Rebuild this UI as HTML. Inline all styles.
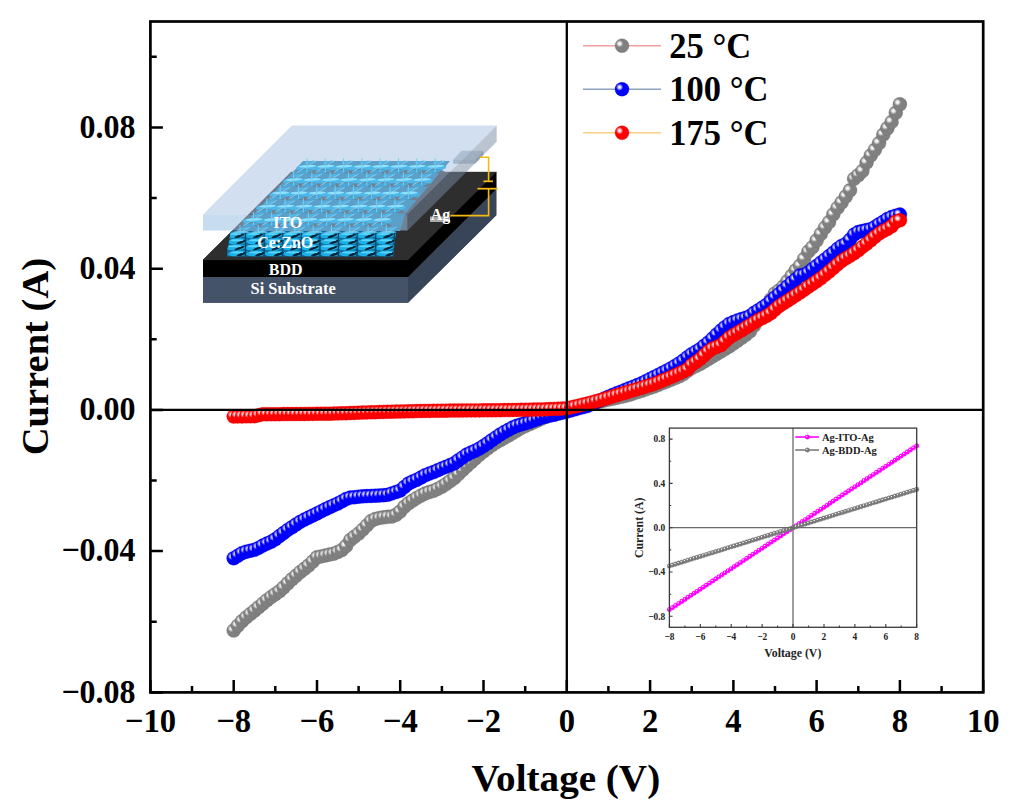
<!DOCTYPE html><html><head><meta charset="utf-8"><style>html,body{margin:0;padding:0;background:#fff;width:1014px;height:811px;overflow:hidden;}svg{display:block;}text{font-family:"Liberation Serif",serif;font-weight:bold;}</style></head><body>
<svg width="1014" height="811" viewBox="0 0 1014 811">
<defs>
<radialGradient id="hl" cx="0.5" cy="0.5" r="0.5"><stop offset="0" stop-color="#fff" stop-opacity="1"/><stop offset="0.35" stop-color="#fff" stop-opacity="0.85"/><stop offset="1" stop-color="#fff" stop-opacity="0"/></radialGradient>
<g id="mG"><circle r="7" fill="#808080"/><circle r="7" fill="none" stroke="#6e6e6e" stroke-width="0.6" stroke-opacity="0.5"/><circle cx="-2.4" cy="-2.0" r="3.6" fill="url(#hl)"/></g>
<g id="mB"><circle r="7" fill="#0000ff"/><circle r="7" fill="none" stroke="#0000c8" stroke-width="0.6" stroke-opacity="0.5"/><circle cx="-2.4" cy="-2.0" r="3.6" fill="url(#hl)"/></g>
<g id="mR"><circle r="7" fill="#ff0000"/><circle r="7" fill="none" stroke="#d00000" stroke-width="0.6" stroke-opacity="0.5"/><circle cx="-2.4" cy="-2.0" r="3.6" fill="url(#hl)"/></g>
<g id="mM"><circle r="2.3" fill="#ff00ff"/><circle r="2.3" fill="none" stroke="#ff00ff" stroke-width="0.6" stroke-opacity="0.5"/><circle cx="-0.6" cy="-0.6" r="1.1" fill="url(#hl)"/></g>
<g id="mK"><circle r="2.3" fill="#7a7a7a"/><circle r="2.3" fill="none" stroke="#7a7a7a" stroke-width="0.6" stroke-opacity="0.5"/><circle cx="-0.6" cy="-0.6" r="1.1" fill="url(#hl)"/></g>
<clipPath id="nclip"><polygon points="285,150 472,150 407.5,214.6 401,232.5 215,232.5"/></clipPath>
<clipPath id="fclip"><polygon points="231,231 396,231 393,256.5 226,256.5"/></clipPath>
<g id="flw"><ellipse cx="-1" cy="-1" rx="10" ry="2.6" transform="rotate(-28)" fill="#7d8c9e"/><ellipse cx="0" cy="1.2" rx="11" ry="3.2" transform="rotate(-3)" fill="#4cb9ea"/><ellipse cx="3" cy="4.2" rx="8" ry="2.0" transform="rotate(10)" fill="#6d8296"/><ellipse cx="-2" cy="4.6" rx="7" ry="1.6" transform="rotate(-8)" fill="#4aa8da"/><ellipse cx="0.5" cy="-0.2" rx="8.5" ry="1.2" transform="rotate(-3)" fill="#92e2ff"/><ellipse cx="4" cy="-3.5" rx="6" ry="1.4" transform="rotate(-10)" fill="#56b4e4"/><line x1="0" y1="-8" x2="0" y2="6" stroke="#6ccff8" stroke-width="1.0"/><line x1="-10" y1="6" x2="10" y2="-6" stroke="#7fd6fa" stroke-width="0.8"/></g>
<g id="fw"><ellipse cx="0" cy="0" rx="10" ry="3.0" transform="rotate(-4)" fill="#1cb0e8"/><ellipse cx="3" cy="2.0" rx="5.5" ry="1.3" transform="rotate(-22)" fill="#04263a"/><ellipse cx="-1" cy="-1.1" rx="6.5" ry="1.0" fill="#5cd6ff"/></g>
</defs>
<g id="device"><polygon points="203,276.9 408,276.9 496.3,189 496.3,215.3 408,302.7 203,302.7" fill="#3c485c"/><polygon points="203,259.9 291.3,172 496.3,172 496.3,189 408,276.9 203,276.9" fill="#000"/><polygon points="203,276.9 408,276.9 408,302.7 203,302.7" fill="#455369"/><polygon points="408,276.9 496.3,189 496.3,215.3 408,302.7" fill="#384457"/><polygon points="203,259.9 408,259.9 408,276.9 203,276.9" fill="#000"/><polygon points="408,259.9 496.3,172 496.3,189 408,276.9" fill="#000"/><polygon points="203,259.9 291.3,172 496.3,172 408,259.9" fill="#2e2e2e" stroke="#2e2e2e" stroke-width="0.4"/><g clip-path="url(#fclip)"><rect x="227" y="231" width="170" height="26" fill="#0f6e9e"/><use href="#fw" x="236.0" y="235.2"/><use href="#fw" x="254.6" y="235.2"/><use href="#fw" x="273.2" y="235.2"/><use href="#fw" x="291.8" y="235.2"/><use href="#fw" x="310.4" y="235.2"/><use href="#fw" x="329.0" y="235.2"/><use href="#fw" x="347.6" y="235.2"/><use href="#fw" x="366.2" y="235.2"/><use href="#fw" x="384.8" y="235.2"/><use href="#fw" x="403.4" y="235.2"/><use href="#fw" x="238.0" y="241.3"/><use href="#fw" x="256.6" y="241.3"/><use href="#fw" x="275.2" y="241.3"/><use href="#fw" x="293.8" y="241.3"/><use href="#fw" x="312.4" y="241.3"/><use href="#fw" x="331.0" y="241.3"/><use href="#fw" x="349.6" y="241.3"/><use href="#fw" x="368.2" y="241.3"/><use href="#fw" x="386.8" y="241.3"/><use href="#fw" x="405.4" y="241.3"/><use href="#fw" x="236.0" y="247.4"/><use href="#fw" x="254.6" y="247.4"/><use href="#fw" x="273.2" y="247.4"/><use href="#fw" x="291.8" y="247.4"/><use href="#fw" x="310.4" y="247.4"/><use href="#fw" x="329.0" y="247.4"/><use href="#fw" x="347.6" y="247.4"/><use href="#fw" x="366.2" y="247.4"/><use href="#fw" x="384.8" y="247.4"/><use href="#fw" x="403.4" y="247.4"/><use href="#fw" x="238.0" y="253.5"/><use href="#fw" x="256.6" y="253.5"/><use href="#fw" x="275.2" y="253.5"/><use href="#fw" x="293.8" y="253.5"/><use href="#fw" x="312.4" y="253.5"/><use href="#fw" x="331.0" y="253.5"/><use href="#fw" x="349.6" y="253.5"/><use href="#fw" x="368.2" y="253.5"/><use href="#fw" x="386.8" y="253.5"/><use href="#fw" x="405.4" y="253.5"/><line x1="245.5" y1="232" x2="245.5" y2="257" stroke="#0a4060" stroke-width="1.2"/><line x1="264.1" y1="232" x2="264.1" y2="257" stroke="#0a4060" stroke-width="1.2"/><line x1="282.7" y1="232" x2="282.7" y2="257" stroke="#0a4060" stroke-width="1.2"/><line x1="301.3" y1="232" x2="301.3" y2="257" stroke="#0a4060" stroke-width="1.2"/><line x1="319.9" y1="232" x2="319.9" y2="257" stroke="#0a4060" stroke-width="1.2"/><line x1="338.5" y1="232" x2="338.5" y2="257" stroke="#0a4060" stroke-width="1.2"/><line x1="357.1" y1="232" x2="357.1" y2="257" stroke="#0a4060" stroke-width="1.2"/><line x1="375.7" y1="232" x2="375.7" y2="257" stroke="#0a4060" stroke-width="1.2"/><line x1="394.3" y1="232" x2="394.3" y2="257" stroke="#0a4060" stroke-width="1.2"/></g><polygon points="203,214.6 292,125.4 496.7,125.4 407.6,214.6" fill="rgb(167,193,227)" fill-opacity="0.52"/><polygon points="203,214.6 407.6,214.6 407.6,230.6 203,230.6" fill="rgb(160,195,230)" fill-opacity="0.58"/><polygon points="407.6,214.6 496.7,125.4 496.7,141.8 407.6,230.6" fill="rgb(120,140,165)" fill-opacity="0.5"/><g clip-path="url(#nclip)"><polygon points="303,161 450,161 405,214 400,231 238,231" fill="#5c9fc8"/><use href="#flw" x="307.0" y="166.5"/><use href="#flw" x="325.3" y="166.5"/><use href="#flw" x="343.6" y="166.5"/><use href="#flw" x="361.9" y="166.5"/><use href="#flw" x="380.2" y="166.5"/><use href="#flw" x="398.5" y="166.5"/><use href="#flw" x="416.8" y="166.5"/><use href="#flw" x="435.1" y="166.5"/><use href="#flw" x="293.6" y="179.8"/><use href="#flw" x="311.9" y="179.8"/><use href="#flw" x="330.2" y="179.8"/><use href="#flw" x="348.5" y="179.8"/><use href="#flw" x="366.8" y="179.8"/><use href="#flw" x="385.1" y="179.8"/><use href="#flw" x="403.4" y="179.8"/><use href="#flw" x="421.7" y="179.8"/><use href="#flw" x="280.2" y="193.1"/><use href="#flw" x="298.5" y="193.1"/><use href="#flw" x="316.8" y="193.1"/><use href="#flw" x="335.1" y="193.1"/><use href="#flw" x="353.4" y="193.1"/><use href="#flw" x="371.7" y="193.1"/><use href="#flw" x="390.0" y="193.1"/><use href="#flw" x="408.3" y="193.1"/><use href="#flw" x="266.8" y="206.4"/><use href="#flw" x="285.1" y="206.4"/><use href="#flw" x="303.4" y="206.4"/><use href="#flw" x="321.7" y="206.4"/><use href="#flw" x="340.0" y="206.4"/><use href="#flw" x="358.3" y="206.4"/><use href="#flw" x="376.6" y="206.4"/><use href="#flw" x="394.9" y="206.4"/><use href="#flw" x="253.4" y="219.7"/><use href="#flw" x="271.7" y="219.7"/><use href="#flw" x="290.0" y="219.7"/><use href="#flw" x="308.3" y="219.7"/><use href="#flw" x="326.6" y="219.7"/><use href="#flw" x="344.9" y="219.7"/><use href="#flw" x="363.2" y="219.7"/><use href="#flw" x="381.5" y="219.7"/><use href="#flw" x="240.0" y="233.0"/><use href="#flw" x="258.3" y="233.0"/><use href="#flw" x="276.6" y="233.0"/><use href="#flw" x="294.9" y="233.0"/><use href="#flw" x="313.2" y="233.0"/><use href="#flw" x="331.5" y="233.0"/><use href="#flw" x="349.8" y="233.0"/><use href="#flw" x="368.1" y="233.0"/><use href="#flw" x="386.4" y="233.0"/></g><polygon points="453.2,159.7 461.7,150.8 483.4,150.8 475.3,159.7" fill="#7f93aa" fill-opacity="0.42"/><polygon points="453.2,159.7 475.3,159.7 475.3,163.7 453.2,163.7" fill="#7a8ea6" fill-opacity="0.5"/><polygon points="475.3,159.7 483.4,150.8 483.4,155 475.3,163.7" fill="#6a7f98" fill-opacity="0.55"/><polyline points="479.5,157.2 488.6,157.2 488.6,181.3" fill="none" stroke="#f5b914" stroke-width="1.6"/><line x1="483.5" y1="181.3" x2="493" y2="181.3" stroke="#f5b914" stroke-width="1.8"/><line x1="477.5" y1="188.7" x2="497.7" y2="188.7" stroke="#f5b914" stroke-width="1.8"/><polyline points="488.6,188.7 488.6,215.6 450.5,215.6" fill="none" stroke="#f5b914" stroke-width="1.6"/><rect x="430" y="216.5" width="20" height="5.5" fill="#a9a9a9"/><text x="440.5" y="219.5" font-size="16" fill="#fff" text-anchor="middle">Ag</text><text x="287.7" y="228.4" font-size="16" fill="#fff" text-anchor="middle">ITO</text><text x="285.3" y="248.4" font-size="16" fill="#fff" text-anchor="middle">Ce:ZnO</text><text x="285.6" y="274.9" font-size="16" fill="#fff" text-anchor="middle">BDD</text><text x="293.1" y="294.2" font-size="16.4" fill="#fff" text-anchor="middle">Si Substrate</text></g>
<g><use href="#mG" x="233.7" y="630.5"/><use href="#mG" x="237.8" y="625.8"/><use href="#mG" x="242.0" y="621.2"/><use href="#mG" x="246.2" y="617.4"/><use href="#mG" x="250.3" y="614.1"/><use href="#mG" x="254.5" y="610.7"/><use href="#mG" x="258.7" y="607.3"/><use href="#mG" x="262.8" y="603.7"/><use href="#mG" x="267.0" y="600.2"/><use href="#mG" x="271.2" y="597.1"/><use href="#mG" x="275.3" y="594.2"/><use href="#mG" x="279.5" y="591.3"/><use href="#mG" x="283.6" y="587.5"/><use href="#mG" x="287.8" y="583.3"/><use href="#mG" x="292.0" y="579.3"/><use href="#mG" x="296.1" y="575.7"/><use href="#mG" x="300.3" y="572.1"/><use href="#mG" x="304.5" y="568.8"/><use href="#mG" x="308.6" y="565.5"/><use href="#mG" x="312.8" y="561.5"/><use href="#mG" x="317.0" y="557.3"/><use href="#mG" x="321.1" y="556.4"/><use href="#mG" x="325.3" y="555.5"/><use href="#mG" x="329.5" y="554.6"/><use href="#mG" x="333.6" y="553.7"/><use href="#mG" x="337.8" y="552.0"/><use href="#mG" x="341.9" y="550.1"/><use href="#mG" x="346.1" y="546.0"/><use href="#mG" x="350.3" y="540.0"/><use href="#mG" x="354.4" y="536.8"/><use href="#mG" x="358.6" y="533.6"/><use href="#mG" x="362.8" y="529.6"/><use href="#mG" x="366.9" y="525.4"/><use href="#mG" x="371.1" y="521.1"/><use href="#mG" x="375.3" y="519.0"/><use href="#mG" x="379.4" y="518.1"/><use href="#mG" x="383.6" y="517.3"/><use href="#mG" x="387.7" y="516.8"/><use href="#mG" x="391.9" y="516.6"/><use href="#mG" x="396.1" y="514.8"/><use href="#mG" x="400.2" y="511.5"/><use href="#mG" x="404.4" y="506.7"/><use href="#mG" x="408.6" y="503.2"/><use href="#mG" x="412.7" y="500.5"/><use href="#mG" x="416.9" y="497.9"/><use href="#mG" x="421.1" y="495.6"/><use href="#mG" x="425.2" y="493.5"/><use href="#mG" x="429.4" y="492.0"/><use href="#mG" x="433.6" y="490.8"/><use href="#mG" x="437.7" y="488.9"/><use href="#mG" x="441.9" y="486.7"/><use href="#mG" x="446.0" y="484.1"/><use href="#mG" x="450.2" y="481.1"/><use href="#mG" x="454.4" y="478.0"/><use href="#mG" x="458.5" y="474.0"/><use href="#mG" x="462.7" y="470.0"/><use href="#mG" x="466.9" y="466.0"/><use href="#mG" x="471.0" y="462.3"/><use href="#mG" x="475.2" y="458.5"/><use href="#mG" x="479.4" y="454.8"/><use href="#mG" x="483.5" y="451.5"/><use href="#mG" x="487.7" y="448.4"/><use href="#mG" x="491.8" y="445.2"/><use href="#mG" x="496.0" y="442.5"/><use href="#mG" x="500.2" y="440.2"/><use href="#mG" x="504.3" y="437.9"/><use href="#mG" x="508.5" y="435.6"/><use href="#mG" x="512.7" y="433.1"/><use href="#mG" x="516.8" y="430.6"/><use href="#mG" x="521.0" y="428.0"/><use href="#mG" x="525.2" y="426.1"/><use href="#mG" x="529.3" y="424.2"/><use href="#mG" x="533.5" y="422.4"/><use href="#mG" x="537.7" y="420.5"/><use href="#mG" x="541.8" y="418.6"/><use href="#mG" x="546.0" y="416.7"/><use href="#mG" x="550.1" y="415.1"/><use href="#mG" x="554.3" y="414.1"/><use href="#mG" x="558.5" y="413.0"/><use href="#mG" x="562.6" y="412.0"/><use href="#mG" x="566.8" y="411.0"/><use href="#mG" x="571.0" y="409.7"/><use href="#mG" x="575.1" y="408.3"/><use href="#mG" x="579.3" y="407.0"/><use href="#mG" x="583.5" y="405.6"/><use href="#mG" x="587.6" y="404.4"/><use href="#mG" x="591.8" y="403.4"/><use href="#mG" x="595.9" y="402.4"/><use href="#mG" x="600.1" y="401.5"/><use href="#mG" x="604.3" y="400.5"/><use href="#mG" x="608.4" y="399.6"/><use href="#mG" x="612.6" y="398.7"/><use href="#mG" x="616.8" y="397.7"/><use href="#mG" x="620.9" y="396.8"/><use href="#mG" x="625.1" y="395.9"/><use href="#mG" x="629.3" y="394.8"/><use href="#mG" x="633.4" y="393.4"/><use href="#mG" x="637.6" y="392.0"/><use href="#mG" x="641.8" y="390.7"/><use href="#mG" x="645.9" y="389.3"/><use href="#mG" x="650.1" y="387.9"/><use href="#mG" x="654.2" y="386.5"/><use href="#mG" x="658.4" y="384.8"/><use href="#mG" x="662.6" y="383.1"/><use href="#mG" x="666.7" y="381.5"/><use href="#mG" x="670.9" y="379.8"/><use href="#mG" x="675.1" y="378.1"/><use href="#mG" x="679.2" y="376.4"/><use href="#mG" x="683.4" y="374.0"/><use href="#mG" x="687.6" y="370.8"/><use href="#mG" x="691.7" y="368.1"/><use href="#mG" x="695.9" y="366.1"/><use href="#mG" x="700.0" y="364.0"/><use href="#mG" x="704.2" y="361.5"/><use href="#mG" x="708.4" y="359.0"/><use href="#mG" x="712.5" y="356.5"/><use href="#mG" x="716.7" y="354.0"/><use href="#mG" x="720.9" y="351.5"/><use href="#mG" x="725.0" y="349.0"/><use href="#mG" x="729.2" y="346.5"/><use href="#mG" x="733.4" y="343.6"/><use href="#mG" x="737.5" y="340.7"/><use href="#mG" x="741.7" y="337.7"/><use href="#mG" x="745.9" y="334.8"/><use href="#mG" x="750.0" y="331.4"/><use href="#mG" x="754.2" y="325.5"/><use href="#mG" x="758.3" y="318.7"/><use href="#mG" x="762.5" y="312.0"/><use href="#mG" x="766.7" y="305.6"/><use href="#mG" x="770.8" y="299.5"/><use href="#mG" x="775.0" y="293.4"/><use href="#mG" x="779.2" y="290.5"/><use href="#mG" x="783.3" y="286.6"/><use href="#mG" x="787.5" y="281.2"/><use href="#mG" x="791.7" y="275.8"/><use href="#mG" x="795.8" y="270.3"/><use href="#mG" x="800.0" y="265.7"/><use href="#mG" x="804.1" y="258.9"/><use href="#mG" x="808.3" y="251.6"/><use href="#mG" x="812.5" y="247.2"/><use href="#mG" x="816.6" y="240.5"/><use href="#mG" x="820.8" y="234.0"/><use href="#mG" x="825.0" y="227.6"/><use href="#mG" x="829.1" y="222.1"/><use href="#mG" x="833.3" y="214.4"/><use href="#mG" x="837.5" y="207.9"/><use href="#mG" x="841.6" y="202.5"/><use href="#mG" x="845.8" y="196.5"/><use href="#mG" x="850.0" y="190.3"/><use href="#mG" x="854.1" y="178.8"/><use href="#mG" x="858.3" y="175.2"/><use href="#mG" x="862.4" y="171.1"/><use href="#mG" x="866.6" y="162.6"/><use href="#mG" x="870.8" y="155.4"/><use href="#mG" x="874.9" y="149.8"/><use href="#mG" x="879.1" y="143.1"/><use href="#mG" x="883.3" y="134.6"/><use href="#mG" x="887.4" y="128.3"/><use href="#mG" x="891.6" y="121.9"/><use href="#mG" x="895.8" y="112.8"/><use href="#mG" x="899.9" y="104.3"/></g>
<g><use href="#mB" x="233.7" y="558.3"/><use href="#mB" x="237.8" y="555.8"/><use href="#mB" x="242.0" y="553.2"/><use href="#mB" x="246.2" y="551.7"/><use href="#mB" x="250.3" y="550.7"/><use href="#mB" x="254.5" y="549.8"/><use href="#mB" x="258.7" y="547.9"/><use href="#mB" x="262.8" y="545.6"/><use href="#mB" x="267.0" y="543.6"/><use href="#mB" x="271.2" y="541.7"/><use href="#mB" x="275.3" y="539.2"/><use href="#mB" x="279.5" y="536.1"/><use href="#mB" x="283.6" y="533.0"/><use href="#mB" x="287.8" y="529.9"/><use href="#mB" x="292.0" y="527.2"/><use href="#mB" x="296.1" y="524.5"/><use href="#mB" x="300.3" y="521.8"/><use href="#mB" x="304.5" y="519.6"/><use href="#mB" x="308.6" y="517.6"/><use href="#mB" x="312.8" y="515.5"/><use href="#mB" x="317.0" y="513.5"/><use href="#mB" x="321.1" y="511.4"/><use href="#mB" x="325.3" y="509.3"/><use href="#mB" x="329.5" y="507.3"/><use href="#mB" x="333.6" y="505.4"/><use href="#mB" x="337.8" y="503.6"/><use href="#mB" x="341.9" y="501.4"/><use href="#mB" x="346.1" y="499.0"/><use href="#mB" x="350.3" y="497.6"/><use href="#mB" x="354.4" y="497.2"/><use href="#mB" x="358.6" y="496.7"/><use href="#mB" x="362.8" y="496.3"/><use href="#mB" x="366.9" y="496.1"/><use href="#mB" x="371.1" y="495.9"/><use href="#mB" x="375.3" y="495.7"/><use href="#mB" x="379.4" y="495.5"/><use href="#mB" x="383.6" y="495.2"/><use href="#mB" x="387.7" y="494.8"/><use href="#mB" x="391.9" y="493.4"/><use href="#mB" x="396.1" y="492.0"/><use href="#mB" x="400.2" y="490.6"/><use href="#mB" x="404.4" y="487.0"/><use href="#mB" x="408.6" y="483.5"/><use href="#mB" x="412.7" y="481.5"/><use href="#mB" x="416.9" y="479.7"/><use href="#mB" x="421.1" y="477.5"/><use href="#mB" x="425.2" y="475.2"/><use href="#mB" x="429.4" y="473.6"/><use href="#mB" x="433.6" y="472.1"/><use href="#mB" x="437.7" y="470.3"/><use href="#mB" x="441.9" y="468.4"/><use href="#mB" x="446.0" y="466.8"/><use href="#mB" x="450.2" y="465.1"/><use href="#mB" x="454.4" y="463.2"/><use href="#mB" x="458.5" y="460.3"/><use href="#mB" x="462.7" y="457.4"/><use href="#mB" x="466.9" y="454.5"/><use href="#mB" x="471.0" y="452.6"/><use href="#mB" x="475.2" y="450.7"/><use href="#mB" x="479.4" y="448.6"/><use href="#mB" x="483.5" y="446.0"/><use href="#mB" x="487.7" y="443.3"/><use href="#mB" x="491.8" y="440.3"/><use href="#mB" x="496.0" y="437.4"/><use href="#mB" x="500.2" y="434.5"/><use href="#mB" x="504.3" y="432.1"/><use href="#mB" x="508.5" y="429.8"/><use href="#mB" x="512.7" y="427.5"/><use href="#mB" x="516.8" y="425.7"/><use href="#mB" x="521.0" y="424.5"/><use href="#mB" x="525.2" y="423.3"/><use href="#mB" x="529.3" y="422.0"/><use href="#mB" x="533.5" y="420.5"/><use href="#mB" x="537.7" y="419.0"/><use href="#mB" x="541.8" y="417.5"/><use href="#mB" x="546.0" y="416.5"/><use href="#mB" x="550.1" y="415.6"/><use href="#mB" x="554.3" y="414.7"/><use href="#mB" x="558.5" y="413.6"/><use href="#mB" x="562.6" y="412.6"/><use href="#mB" x="566.8" y="411.5"/><use href="#mB" x="571.0" y="410.4"/><use href="#mB" x="575.1" y="409.3"/><use href="#mB" x="579.3" y="408.1"/><use href="#mB" x="583.5" y="407.0"/><use href="#mB" x="587.6" y="405.9"/><use href="#mB" x="591.8" y="404.1"/><use href="#mB" x="595.9" y="402.3"/><use href="#mB" x="600.1" y="400.4"/><use href="#mB" x="604.3" y="398.6"/><use href="#mB" x="608.4" y="396.8"/><use href="#mB" x="612.6" y="395.0"/><use href="#mB" x="616.8" y="393.3"/><use href="#mB" x="620.9" y="391.7"/><use href="#mB" x="625.1" y="390.0"/><use href="#mB" x="629.3" y="388.3"/><use href="#mB" x="633.4" y="386.7"/><use href="#mB" x="637.6" y="385.0"/><use href="#mB" x="641.8" y="383.3"/><use href="#mB" x="645.9" y="381.2"/><use href="#mB" x="650.1" y="379.1"/><use href="#mB" x="654.2" y="377.0"/><use href="#mB" x="658.4" y="374.9"/><use href="#mB" x="662.6" y="372.8"/><use href="#mB" x="666.7" y="370.7"/><use href="#mB" x="670.9" y="368.4"/><use href="#mB" x="675.1" y="365.9"/><use href="#mB" x="679.2" y="363.4"/><use href="#mB" x="683.4" y="360.5"/><use href="#mB" x="687.6" y="357.2"/><use href="#mB" x="691.7" y="354.2"/><use href="#mB" x="695.9" y="351.7"/><use href="#mB" x="700.0" y="349.2"/><use href="#mB" x="704.2" y="345.8"/><use href="#mB" x="708.4" y="342.5"/><use href="#mB" x="712.5" y="338.6"/><use href="#mB" x="716.7" y="334.5"/><use href="#mB" x="720.9" y="330.6"/><use href="#mB" x="725.0" y="327.2"/><use href="#mB" x="729.2" y="323.9"/><use href="#mB" x="733.4" y="322.1"/><use href="#mB" x="737.5" y="320.4"/><use href="#mB" x="741.7" y="319.0"/><use href="#mB" x="745.9" y="317.8"/><use href="#mB" x="750.0" y="316.1"/><use href="#mB" x="754.2" y="312.8"/><use href="#mB" x="758.3" y="310.3"/><use href="#mB" x="762.5" y="307.5"/><use href="#mB" x="766.7" y="304.7"/><use href="#mB" x="770.8" y="301.2"/><use href="#mB" x="775.0" y="297.5"/><use href="#mB" x="779.2" y="293.9"/><use href="#mB" x="783.3" y="290.3"/><use href="#mB" x="787.5" y="286.4"/><use href="#mB" x="791.7" y="282.7"/><use href="#mB" x="795.8" y="279.5"/><use href="#mB" x="800.0" y="275.4"/><use href="#mB" x="804.1" y="274.7"/><use href="#mB" x="808.3" y="272.6"/><use href="#mB" x="812.5" y="269.3"/><use href="#mB" x="816.6" y="266.0"/><use href="#mB" x="820.8" y="262.7"/><use href="#mB" x="825.0" y="259.4"/><use href="#mB" x="829.1" y="256.1"/><use href="#mB" x="833.3" y="252.8"/><use href="#mB" x="837.5" y="248.9"/><use href="#mB" x="841.6" y="245.9"/><use href="#mB" x="845.8" y="243.9"/><use href="#mB" x="850.0" y="239.7"/><use href="#mB" x="854.1" y="234.6"/><use href="#mB" x="858.3" y="232.0"/><use href="#mB" x="862.4" y="231.0"/><use href="#mB" x="866.6" y="230.1"/><use href="#mB" x="870.8" y="229.2"/><use href="#mB" x="874.9" y="227.1"/><use href="#mB" x="879.1" y="224.3"/><use href="#mB" x="883.3" y="221.8"/><use href="#mB" x="887.4" y="219.0"/><use href="#mB" x="891.6" y="217.1"/><use href="#mB" x="895.8" y="215.7"/><use href="#mB" x="899.9" y="214.6"/></g>
<g><use href="#mR" x="233.7" y="416.5"/><use href="#mR" x="237.8" y="416.4"/><use href="#mR" x="242.0" y="416.4"/><use href="#mR" x="246.2" y="416.3"/><use href="#mR" x="250.3" y="416.3"/><use href="#mR" x="254.5" y="416.2"/><use href="#mR" x="258.7" y="415.2"/><use href="#mR" x="262.8" y="414.3"/><use href="#mR" x="267.0" y="414.3"/><use href="#mR" x="271.2" y="414.2"/><use href="#mR" x="275.3" y="414.2"/><use href="#mR" x="279.5" y="414.2"/><use href="#mR" x="283.6" y="414.1"/><use href="#mR" x="287.8" y="414.1"/><use href="#mR" x="292.0" y="414.1"/><use href="#mR" x="296.1" y="414.0"/><use href="#mR" x="300.3" y="414.0"/><use href="#mR" x="304.5" y="414.0"/><use href="#mR" x="308.6" y="413.9"/><use href="#mR" x="312.8" y="413.9"/><use href="#mR" x="317.0" y="413.8"/><use href="#mR" x="321.1" y="413.8"/><use href="#mR" x="325.3" y="413.7"/><use href="#mR" x="329.5" y="413.7"/><use href="#mR" x="333.6" y="413.6"/><use href="#mR" x="337.8" y="413.4"/><use href="#mR" x="341.9" y="413.3"/><use href="#mR" x="346.1" y="413.2"/><use href="#mR" x="350.3" y="413.0"/><use href="#mR" x="354.4" y="412.9"/><use href="#mR" x="358.6" y="412.7"/><use href="#mR" x="362.8" y="412.6"/><use href="#mR" x="366.9" y="412.4"/><use href="#mR" x="371.1" y="412.3"/><use href="#mR" x="375.3" y="412.2"/><use href="#mR" x="379.4" y="412.0"/><use href="#mR" x="383.6" y="411.9"/><use href="#mR" x="387.7" y="411.8"/><use href="#mR" x="391.9" y="411.7"/><use href="#mR" x="396.1" y="411.6"/><use href="#mR" x="400.2" y="411.5"/><use href="#mR" x="404.4" y="411.4"/><use href="#mR" x="408.6" y="411.3"/><use href="#mR" x="412.7" y="411.2"/><use href="#mR" x="416.9" y="411.1"/><use href="#mR" x="421.1" y="411.0"/><use href="#mR" x="425.2" y="410.9"/><use href="#mR" x="429.4" y="410.9"/><use href="#mR" x="433.6" y="410.8"/><use href="#mR" x="437.7" y="410.8"/><use href="#mR" x="441.9" y="410.7"/><use href="#mR" x="446.0" y="410.7"/><use href="#mR" x="450.2" y="410.6"/><use href="#mR" x="454.4" y="410.6"/><use href="#mR" x="458.5" y="410.5"/><use href="#mR" x="462.7" y="410.5"/><use href="#mR" x="466.9" y="410.4"/><use href="#mR" x="471.0" y="410.4"/><use href="#mR" x="475.2" y="410.4"/><use href="#mR" x="479.4" y="410.4"/><use href="#mR" x="483.5" y="410.3"/><use href="#mR" x="487.7" y="410.3"/><use href="#mR" x="491.8" y="410.3"/><use href="#mR" x="496.0" y="410.2"/><use href="#mR" x="500.2" y="410.2"/><use href="#mR" x="504.3" y="410.1"/><use href="#mR" x="508.5" y="410.1"/><use href="#mR" x="512.7" y="410.0"/><use href="#mR" x="516.8" y="409.9"/><use href="#mR" x="521.0" y="409.8"/><use href="#mR" x="525.2" y="409.8"/><use href="#mR" x="529.3" y="409.7"/><use href="#mR" x="533.5" y="409.6"/><use href="#mR" x="537.7" y="409.5"/><use href="#mR" x="541.8" y="409.4"/><use href="#mR" x="546.0" y="409.3"/><use href="#mR" x="550.1" y="409.1"/><use href="#mR" x="554.3" y="408.9"/><use href="#mR" x="558.5" y="408.7"/><use href="#mR" x="562.6" y="408.6"/><use href="#mR" x="566.8" y="408.4"/><use href="#mR" x="571.0" y="407.4"/><use href="#mR" x="575.1" y="406.5"/><use href="#mR" x="579.3" y="405.5"/><use href="#mR" x="583.5" y="404.5"/><use href="#mR" x="587.6" y="403.5"/><use href="#mR" x="591.8" y="402.4"/><use href="#mR" x="595.9" y="401.3"/><use href="#mR" x="600.1" y="400.2"/><use href="#mR" x="604.3" y="398.9"/><use href="#mR" x="608.4" y="397.7"/><use href="#mR" x="612.6" y="396.4"/><use href="#mR" x="616.8" y="395.2"/><use href="#mR" x="620.9" y="393.9"/><use href="#mR" x="625.1" y="392.7"/><use href="#mR" x="629.3" y="391.4"/><use href="#mR" x="633.4" y="390.2"/><use href="#mR" x="637.6" y="388.9"/><use href="#mR" x="641.8" y="387.7"/><use href="#mR" x="645.9" y="386.4"/><use href="#mR" x="650.1" y="385.2"/><use href="#mR" x="654.2" y="383.9"/><use href="#mR" x="658.4" y="382.3"/><use href="#mR" x="662.6" y="380.6"/><use href="#mR" x="666.7" y="378.9"/><use href="#mR" x="670.9" y="377.1"/><use href="#mR" x="675.1" y="375.2"/><use href="#mR" x="679.2" y="373.4"/><use href="#mR" x="683.4" y="371.4"/><use href="#mR" x="687.6" y="369.3"/><use href="#mR" x="691.7" y="364.9"/><use href="#mR" x="695.9" y="362.0"/><use href="#mR" x="700.0" y="359.1"/><use href="#mR" x="704.2" y="355.3"/><use href="#mR" x="708.4" y="351.5"/><use href="#mR" x="712.5" y="348.6"/><use href="#mR" x="716.7" y="346.9"/><use href="#mR" x="720.9" y="345.2"/><use href="#mR" x="725.0" y="341.5"/><use href="#mR" x="729.2" y="337.7"/><use href="#mR" x="733.4" y="335.1"/><use href="#mR" x="737.5" y="332.7"/><use href="#mR" x="741.7" y="330.2"/><use href="#mR" x="745.9" y="327.6"/><use href="#mR" x="750.0" y="325.1"/><use href="#mR" x="754.2" y="322.6"/><use href="#mR" x="758.3" y="320.1"/><use href="#mR" x="762.5" y="318.0"/><use href="#mR" x="766.7" y="315.9"/><use href="#mR" x="770.8" y="313.2"/><use href="#mR" x="775.0" y="309.6"/><use href="#mR" x="779.2" y="306.1"/><use href="#mR" x="783.3" y="303.4"/><use href="#mR" x="787.5" y="300.7"/><use href="#mR" x="791.7" y="298.0"/><use href="#mR" x="795.8" y="295.3"/><use href="#mR" x="800.0" y="292.6"/><use href="#mR" x="804.1" y="289.9"/><use href="#mR" x="808.3" y="286.8"/><use href="#mR" x="812.5" y="284.0"/><use href="#mR" x="816.6" y="281.2"/><use href="#mR" x="820.8" y="278.3"/><use href="#mR" x="825.0" y="274.9"/><use href="#mR" x="829.1" y="271.5"/><use href="#mR" x="833.3" y="268.0"/><use href="#mR" x="837.5" y="264.4"/><use href="#mR" x="841.6" y="261.0"/><use href="#mR" x="845.8" y="258.3"/><use href="#mR" x="850.0" y="255.9"/><use href="#mR" x="854.1" y="253.2"/><use href="#mR" x="858.3" y="250.3"/><use href="#mR" x="862.4" y="246.9"/><use href="#mR" x="866.6" y="243.7"/><use href="#mR" x="870.8" y="240.3"/><use href="#mR" x="874.9" y="236.8"/><use href="#mR" x="879.1" y="233.6"/><use href="#mR" x="883.3" y="231.0"/><use href="#mR" x="887.4" y="229.0"/><use href="#mR" x="891.6" y="226.3"/><use href="#mR" x="895.8" y="221.8"/><use href="#mR" x="899.9" y="220.3"/></g>
<line x1="566.8" y1="21.5" x2="566.8" y2="692.4" stroke="#000" stroke-width="2.3"/>
<line x1="150.4" y1="409.9" x2="983.2" y2="409.9" stroke="#000" stroke-width="2.1"/>
<rect x="150.4" y="21.5" width="832.8" height="670.9" fill="none" stroke="#000" stroke-width="2.7"/>
<path d="M150.4 692.4 V679.9 M192.0 692.4 V686.1 M233.7 692.4 V679.9 M275.3 692.4 V686.1 M317.0 692.4 V679.9 M358.6 692.4 V686.1 M400.2 692.4 V679.9 M441.9 692.4 V686.1 M483.5 692.4 V679.9 M525.2 692.4 V686.1 M566.8 692.4 V679.9 M608.4 692.4 V686.1 M650.1 692.4 V679.9 M691.7 692.4 V686.1 M733.4 692.4 V679.9 M775.0 692.4 V686.1 M816.6 692.4 V679.9 M858.3 692.4 V686.1 M899.9 692.4 V679.9 M941.6 692.4 V686.1 M983.2 692.4 V679.9 M150.4 692.4 H162.9 M150.4 621.8 H156.7 M150.4 551.1 H162.9 M150.4 480.5 H156.7 M150.4 409.9 H162.9 M150.4 339.3 H156.7 M150.4 268.7 H162.9 M150.4 198.0 H156.7 M150.4 127.4 H162.9 M150.4 56.8 H156.7" stroke="#000" stroke-width="2.5" fill="none"/>
<text transform="translate(150.40,731.80) scale(1.02,1.045)" font-size="32" text-anchor="middle">−10</text>
<text transform="translate(233.68,731.80) scale(1.02,1.045)" font-size="32" text-anchor="middle">−8</text>
<text transform="translate(316.96,731.80) scale(1.02,1.045)" font-size="32" text-anchor="middle">−6</text>
<text transform="translate(400.24,731.80) scale(1.02,1.045)" font-size="32" text-anchor="middle">−4</text>
<text transform="translate(483.52,731.80) scale(1.02,1.045)" font-size="32" text-anchor="middle">−2</text>
<text transform="translate(566.80,731.80) scale(1.02,1.045)" font-size="32" text-anchor="middle">0</text>
<text transform="translate(650.08,731.80) scale(1.02,1.045)" font-size="32" text-anchor="middle">2</text>
<text transform="translate(733.36,731.80) scale(1.02,1.045)" font-size="32" text-anchor="middle">4</text>
<text transform="translate(816.64,731.80) scale(1.02,1.045)" font-size="32" text-anchor="middle">6</text>
<text transform="translate(899.92,731.80) scale(1.02,1.045)" font-size="32" text-anchor="middle">8</text>
<text transform="translate(983.20,731.80) scale(1.02,1.045)" font-size="32" text-anchor="middle">10</text>
<text transform="translate(135.60,702.58) scale(1.0,1.045)" font-size="32" text-anchor="end">−0.08</text>
<text transform="translate(135.60,561.34) scale(1.0,1.045)" font-size="32" text-anchor="end">−0.04</text>
<text transform="translate(135.60,420.10) scale(1.0,1.045)" font-size="32" text-anchor="end">0.00</text>
<text transform="translate(135.60,278.86) scale(1.0,1.045)" font-size="32" text-anchor="end">0.04</text>
<text transform="translate(135.60,137.62) scale(1.0,1.045)" font-size="32" text-anchor="end">0.08</text>
<text transform="translate(565.80,791.00) scale(1.03,1.0)" font-size="38" text-anchor="middle">Voltage (V)</text>
<text transform="translate(47.60,356.60) rotate(-90) scale(1.015,1.02)" font-size="38" text-anchor="middle">Current (A)</text>
<line x1="583" y1="45.7" x2="661" y2="45.7" stroke="#f4a0a0" stroke-width="1.4"/>
<use href="#mG" x="622" y="45.7"/>
<text transform="translate(669.30,57.70) scale(1.0,1.03)" font-size="34.5">25 °C</text>
<line x1="583" y1="89.2" x2="661" y2="89.2" stroke="#8ea4c2" stroke-width="1.4"/>
<use href="#mB" x="622" y="89.2"/>
<text transform="translate(669.30,101.20) scale(1.0,1.03)" font-size="34.5">100 °C</text>
<line x1="583" y1="132.7" x2="661" y2="132.7" stroke="#fbcf84" stroke-width="1.4"/>
<use href="#mR" x="622" y="132.7"/>
<text transform="translate(669.30,144.70) scale(1.0,1.03)" font-size="34.5">175 °C</text>
<g id="inset"><g><use href="#mM" x="669.4" y="609.6"/><use href="#mM" x="672.5" y="607.6"/><use href="#mM" x="675.6" y="605.5"/><use href="#mM" x="678.7" y="603.5"/><use href="#mM" x="681.8" y="601.4"/><use href="#mM" x="684.9" y="599.4"/><use href="#mM" x="687.9" y="597.3"/><use href="#mM" x="691.0" y="595.3"/><use href="#mM" x="694.1" y="593.2"/><use href="#mM" x="697.2" y="591.2"/><use href="#mM" x="700.3" y="589.1"/><use href="#mM" x="703.4" y="587.1"/><use href="#mM" x="706.5" y="585.0"/><use href="#mM" x="709.6" y="583.0"/><use href="#mM" x="712.7" y="580.9"/><use href="#mM" x="715.8" y="578.9"/><use href="#mM" x="718.9" y="576.8"/><use href="#mM" x="722.0" y="574.8"/><use href="#mM" x="725.0" y="572.7"/><use href="#mM" x="728.1" y="570.7"/><use href="#mM" x="731.2" y="568.7"/><use href="#mM" x="734.3" y="566.6"/><use href="#mM" x="737.4" y="564.6"/><use href="#mM" x="740.5" y="562.5"/><use href="#mM" x="743.6" y="560.5"/><use href="#mM" x="746.7" y="558.4"/><use href="#mM" x="749.8" y="556.4"/><use href="#mM" x="752.9" y="554.3"/><use href="#mM" x="756.0" y="552.3"/><use href="#mM" x="759.0" y="550.2"/><use href="#mM" x="762.1" y="548.2"/><use href="#mM" x="765.2" y="546.1"/><use href="#mM" x="768.3" y="544.1"/><use href="#mM" x="771.4" y="542.0"/><use href="#mM" x="774.5" y="540.0"/><use href="#mM" x="777.6" y="537.9"/><use href="#mM" x="780.7" y="535.9"/><use href="#mM" x="783.8" y="533.8"/><use href="#mM" x="786.9" y="531.8"/><use href="#mM" x="790.0" y="529.7"/><use href="#mM" x="793.0" y="527.7"/><use href="#mM" x="796.1" y="525.7"/><use href="#mM" x="799.2" y="523.6"/><use href="#mM" x="802.3" y="521.6"/><use href="#mM" x="805.4" y="519.5"/><use href="#mM" x="808.5" y="517.5"/><use href="#mM" x="811.6" y="515.4"/><use href="#mM" x="814.7" y="513.4"/><use href="#mM" x="817.8" y="511.3"/><use href="#mM" x="820.9" y="509.3"/><use href="#mM" x="824.0" y="507.2"/><use href="#mM" x="827.1" y="505.2"/><use href="#mM" x="830.1" y="503.1"/><use href="#mM" x="833.2" y="501.1"/><use href="#mM" x="836.3" y="499.0"/><use href="#mM" x="839.4" y="497.0"/><use href="#mM" x="842.5" y="494.9"/><use href="#mM" x="845.6" y="492.9"/><use href="#mM" x="848.7" y="490.8"/><use href="#mM" x="851.8" y="488.8"/><use href="#mM" x="854.9" y="486.7"/><use href="#mM" x="858.0" y="484.7"/><use href="#mM" x="861.1" y="482.7"/><use href="#mM" x="864.1" y="480.6"/><use href="#mM" x="867.2" y="478.6"/><use href="#mM" x="870.3" y="476.5"/><use href="#mM" x="873.4" y="474.5"/><use href="#mM" x="876.5" y="472.4"/><use href="#mM" x="879.6" y="470.4"/><use href="#mM" x="882.7" y="468.3"/><use href="#mM" x="885.8" y="466.3"/><use href="#mM" x="888.9" y="464.2"/><use href="#mM" x="892.0" y="462.2"/><use href="#mM" x="895.1" y="460.1"/><use href="#mM" x="898.2" y="458.1"/><use href="#mM" x="901.2" y="456.0"/><use href="#mM" x="904.3" y="454.0"/><use href="#mM" x="907.4" y="451.9"/><use href="#mM" x="910.5" y="449.9"/><use href="#mM" x="913.6" y="447.8"/><use href="#mM" x="916.7" y="445.8"/></g><g><use href="#mK" x="669.4" y="566.0"/><use href="#mK" x="672.5" y="565.0"/><use href="#mK" x="675.6" y="564.1"/><use href="#mK" x="678.7" y="563.1"/><use href="#mK" x="681.8" y="562.2"/><use href="#mK" x="684.9" y="561.2"/><use href="#mK" x="687.9" y="560.2"/><use href="#mK" x="691.0" y="559.3"/><use href="#mK" x="694.1" y="558.3"/><use href="#mK" x="697.2" y="557.4"/><use href="#mK" x="700.3" y="556.4"/><use href="#mK" x="703.4" y="555.5"/><use href="#mK" x="706.5" y="554.5"/><use href="#mK" x="709.6" y="553.5"/><use href="#mK" x="712.7" y="552.6"/><use href="#mK" x="715.8" y="551.6"/><use href="#mK" x="718.9" y="550.7"/><use href="#mK" x="722.0" y="549.7"/><use href="#mK" x="725.0" y="548.8"/><use href="#mK" x="728.1" y="547.8"/><use href="#mK" x="731.2" y="546.8"/><use href="#mK" x="734.3" y="545.9"/><use href="#mK" x="737.4" y="544.9"/><use href="#mK" x="740.5" y="544.0"/><use href="#mK" x="743.6" y="543.0"/><use href="#mK" x="746.7" y="542.1"/><use href="#mK" x="749.8" y="541.1"/><use href="#mK" x="752.9" y="540.1"/><use href="#mK" x="756.0" y="539.2"/><use href="#mK" x="759.0" y="538.2"/><use href="#mK" x="762.1" y="537.3"/><use href="#mK" x="765.2" y="536.3"/><use href="#mK" x="768.3" y="535.4"/><use href="#mK" x="771.4" y="534.4"/><use href="#mK" x="774.5" y="533.4"/><use href="#mK" x="777.6" y="532.5"/><use href="#mK" x="780.7" y="531.5"/><use href="#mK" x="783.8" y="530.6"/><use href="#mK" x="786.9" y="529.6"/><use href="#mK" x="790.0" y="528.7"/><use href="#mK" x="793.0" y="527.7"/><use href="#mK" x="796.1" y="526.7"/><use href="#mK" x="799.2" y="525.8"/><use href="#mK" x="802.3" y="524.8"/><use href="#mK" x="805.4" y="523.9"/><use href="#mK" x="808.5" y="522.9"/><use href="#mK" x="811.6" y="522.0"/><use href="#mK" x="814.7" y="521.0"/><use href="#mK" x="817.8" y="520.0"/><use href="#mK" x="820.9" y="519.1"/><use href="#mK" x="824.0" y="518.1"/><use href="#mK" x="827.1" y="517.2"/><use href="#mK" x="830.1" y="516.2"/><use href="#mK" x="833.2" y="515.3"/><use href="#mK" x="836.3" y="514.3"/><use href="#mK" x="839.4" y="513.3"/><use href="#mK" x="842.5" y="512.4"/><use href="#mK" x="845.6" y="511.4"/><use href="#mK" x="848.7" y="510.5"/><use href="#mK" x="851.8" y="509.5"/><use href="#mK" x="854.9" y="508.6"/><use href="#mK" x="858.0" y="507.6"/><use href="#mK" x="861.1" y="506.6"/><use href="#mK" x="864.1" y="505.7"/><use href="#mK" x="867.2" y="504.7"/><use href="#mK" x="870.3" y="503.8"/><use href="#mK" x="873.4" y="502.8"/><use href="#mK" x="876.5" y="501.9"/><use href="#mK" x="879.6" y="500.9"/><use href="#mK" x="882.7" y="499.9"/><use href="#mK" x="885.8" y="499.0"/><use href="#mK" x="888.9" y="498.0"/><use href="#mK" x="892.0" y="497.1"/><use href="#mK" x="895.1" y="496.1"/><use href="#mK" x="898.2" y="495.2"/><use href="#mK" x="901.2" y="494.2"/><use href="#mK" x="904.3" y="493.2"/><use href="#mK" x="907.4" y="492.3"/><use href="#mK" x="910.5" y="491.3"/><use href="#mK" x="913.6" y="490.4"/><use href="#mK" x="916.7" y="489.4"/></g><line x1="793.0" y1="428.1" x2="793.0" y2="627.3" stroke="#6a6a6a" stroke-width="1.3"/><line x1="669.4" y1="527.7" x2="916.7" y2="527.7" stroke="#6a6a6a" stroke-width="1.3"/><rect x="669.4" y="428.1" width="247.3" height="199.2" fill="none" stroke="#3a3a3a" stroke-width="1.3"/><path d="M669.4 627.3 V624.1 M684.9 627.3 V625.5 M700.3 627.3 V624.1 M715.8 627.3 V625.5 M731.2 627.3 V624.1 M746.7 627.3 V625.5 M762.1 627.3 V624.1 M777.6 627.3 V625.5 M793.0 627.3 V624.1 M808.5 627.3 V625.5 M824.0 627.3 V624.1 M839.4 627.3 V625.5 M854.9 627.3 V624.1 M870.3 627.3 V625.5 M885.8 627.3 V624.1 M901.2 627.3 V625.5 M916.7 627.3 V624.1 M669.4 616.3 H672.6 M669.4 594.2 H671.2 M669.4 572.0 H672.6 M669.4 549.9 H671.2 M669.4 527.7 H672.6 M669.4 505.5 H671.2 M669.4 483.4 H672.6 M669.4 461.2 H671.2 M669.4 439.1 H672.6" stroke="#3a3a3a" stroke-width="1.1" fill="none"/><text transform="translate(669.40,639.90) scale(1.0,1.14)" font-size="9.4" text-anchor="middle" fill="#222">−8</text><text transform="translate(700.31,639.90) scale(1.0,1.14)" font-size="9.4" text-anchor="middle" fill="#222">−6</text><text transform="translate(731.22,639.90) scale(1.0,1.14)" font-size="9.4" text-anchor="middle" fill="#222">−4</text><text transform="translate(762.14,639.90) scale(1.0,1.14)" font-size="9.4" text-anchor="middle" fill="#222">−2</text><text transform="translate(793.05,639.90) scale(1.0,1.14)" font-size="9.4" text-anchor="middle" fill="#222">0</text><text transform="translate(823.96,639.90) scale(1.0,1.14)" font-size="9.4" text-anchor="middle" fill="#222">2</text><text transform="translate(854.88,639.90) scale(1.0,1.14)" font-size="9.4" text-anchor="middle" fill="#222">4</text><text transform="translate(885.79,639.90) scale(1.0,1.14)" font-size="9.4" text-anchor="middle" fill="#222">6</text><text transform="translate(916.70,639.90) scale(1.0,1.14)" font-size="9.4" text-anchor="middle" fill="#222">8</text><text transform="translate(665.30,619.74) scale(1.0,1.14)" font-size="9.4" text-anchor="end" fill="#222">−0.8</text><text transform="translate(665.30,575.42) scale(1.0,1.14)" font-size="9.4" text-anchor="end" fill="#222">−0.4</text><text transform="translate(665.30,531.10) scale(1.0,1.14)" font-size="9.4" text-anchor="end" fill="#222">0.0</text><text transform="translate(665.30,486.78) scale(1.0,1.14)" font-size="9.4" text-anchor="end" fill="#222">0.4</text><text transform="translate(665.30,442.46) scale(1.0,1.14)" font-size="9.4" text-anchor="end" fill="#222">0.8</text><text transform="translate(792.80,657.00) scale(1.02,1.1)" font-size="11.6" text-anchor="middle" fill="#222">Voltage (V)</text><text transform="translate(642.90,527.80) rotate(-90) scale(1.0,1.1)" font-size="11.8" text-anchor="middle" fill="#222">Current (A)</text><line x1="795.2" y1="437" x2="819" y2="437" stroke="#ff00ff" stroke-width="1.6"/><use href="#mM" x="807.4" y="437"/><line x1="795.2" y1="450" x2="819" y2="450" stroke="#7a7a7a" stroke-width="1.6"/><use href="#mK" x="807.4" y="450"/><text x="822" y="440.8" font-size="10.5" fill="#222">Ag-ITO-Ag</text><text x="822" y="453.8" font-size="10.5" fill="#222">Ag-BDD-Ag</text></g>
</svg></body></html>
